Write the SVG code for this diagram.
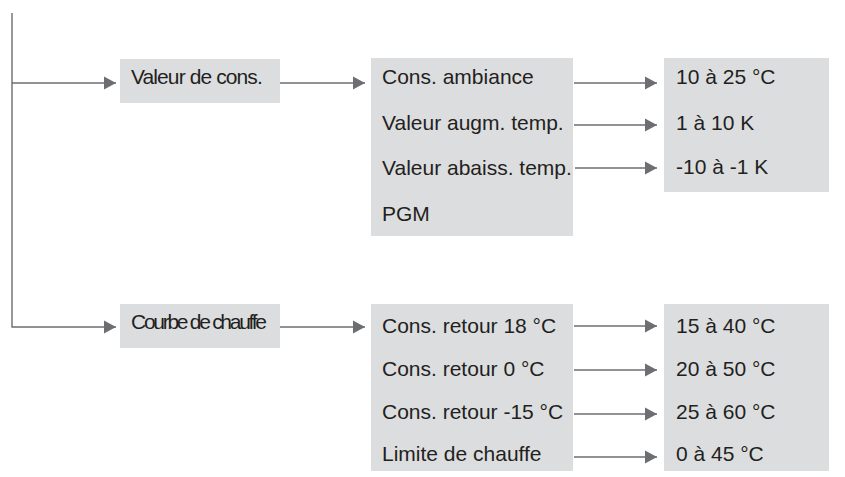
<svg xmlns="http://www.w3.org/2000/svg" width="845" height="477" viewBox="0 0 845 477">
<defs>
<style>
.box{fill:#dcdddf}
.t{font-family:"Liberation Sans",Arial,Helvetica,sans-serif;font-size:21px;fill:#231f20}
.ln{fill:none;stroke:#6d6e71;stroke-width:1.4}
</style>
<marker id="ah" markerUnits="userSpaceOnUse" markerWidth="13" markerHeight="14" refX="12" refY="7" orient="auto">
<path d="M0,0.5 L12,7 L0,13.5 Z" fill="#6d6e71"/>
</marker>
</defs>
<rect width="845" height="477" fill="#ffffff"/>
<g id="connectors">
<path class="ln" d="M12,13 V327 H116" marker-end="url(#ah)"/>
<path class="ln" d="M12,83 H116" marker-end="url(#ah)"/>
<path class="ln" d="M280,83 H365" marker-end="url(#ah)"/>
<path class="ln" d="M280,327 H365" marker-end="url(#ah)"/>
<path class="ln" d="M574,83 H657" marker-end="url(#ah)"/>
<path class="ln" d="M574,125 H657" marker-end="url(#ah)"/>
<path class="ln" d="M575,168 H657" marker-end="url(#ah)"/>
<path class="ln" d="M574,326 H657" marker-end="url(#ah)"/>
<path class="ln" d="M574,370 H657" marker-end="url(#ah)"/>
<path class="ln" d="M574,414 H657" marker-end="url(#ah)"/>
<path class="ln" d="M574,457 H657" marker-end="url(#ah)"/>
</g>
<g id="valeur-de-cons">
<rect class="box" x="120" y="59" width="160" height="44"/>
<text class="t" x="131" y="84" font-size="22" letter-spacing="-0.9">Valeur de cons.</text>
</g>
<g id="courbe-de-chauffe">
<rect class="box" x="120" y="304" width="160" height="44"/>
<text class="t" x="131" y="329" font-size="22" textLength="136" lengthAdjust="spacing">Courbe de chauffe</text>
</g>
<g id="consignes-menu">
<rect class="box" x="371" y="58" width="202" height="178"/>
<text class="t" x="382" y="84">Cons. ambiance</text>
<text class="t" x="382" y="130">Valeur augm. temp.</text>
<text class="t" x="382" y="175">Valeur abaiss. temp.</text>
<text class="t" x="382" y="221">PGM</text>
</g>
<g id="consignes-values">
<rect class="box" x="664" y="58" width="165" height="134"/>
<text class="t" x="676" y="84">10 à 25 °C</text>
<text class="t" x="676" y="130">1 à 10 K</text>
<text class="t" x="676" y="174">-10 à -1 K</text>
</g>
<g id="courbe-menu">
<rect class="box" x="371" y="304" width="202" height="167"/>
<text class="t" x="382" y="333">Cons. retour 18 °C</text>
<text class="t" x="382" y="376">Cons. retour 0 °C</text>
<text class="t" x="382" y="419">Cons. retour -15 °C</text>
<text class="t" x="382" y="461">Limite de chauffe</text>
</g>
<g id="courbe-values">
<rect class="box" x="664" y="304" width="165" height="167"/>
<text class="t" x="676" y="333">15 à 40 °C</text>
<text class="t" x="676" y="376">20 à 50 °C</text>
<text class="t" x="676" y="419">25 à 60 °C</text>
<text class="t" x="676" y="461">0 à 45 °C</text>
</g>
</svg>
